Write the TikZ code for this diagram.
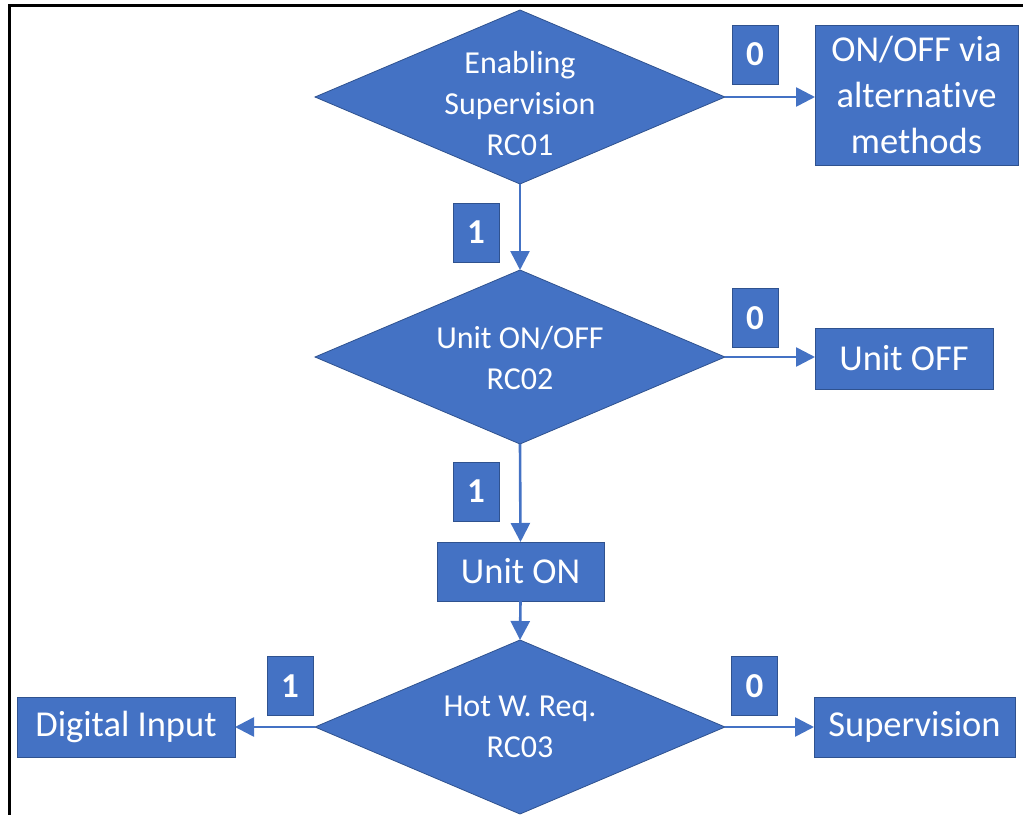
\documentclass[tikz,border=0pt]{standalone}
\usepackage{fontspec}
\setmainfont[Ligatures={NoCommon}]{Carlito}
\usetikzlibrary{shapes.geometric,arrows.meta}
\definecolor{flowblue}{HTML}{4472C4}
\definecolor{flowedge}{HTML}{2F528F}
\begin{document}
\begin{tikzpicture}[x=1bp,y=-1bp,
  decision/.style={diamond, fill=flowblue, draw=flowedge, line width=0.8bp,
    inner sep=0pt, outer sep=0pt, minimum width=410bp, minimum height=174bp},
  dtext/.style={text=white, align=center, inner sep=0pt,
    font=\fontsize{32bp}{41bp}\selectfont},
  outcome/.style={rectangle, fill=flowblue, draw=flowedge, line width=0.8bp,
    inner sep=0pt, outer sep=0pt, text=white, align=center,
    font=\fontsize{36.5bp}{46bp}\selectfont},
  branch/.style={rectangle, fill=flowblue, draw=flowedge, line width=0.6bp,
    inner sep=0pt, minimum width=46bp, minimum height=59bp, text=white,
    font=\fontsize{35bp}{40bp}\selectfont\bfseries},
  flow/.style={draw=flowblue, line width=2.6bp,
    -{Triangle[length=19bp,width=19bp]}}]

\useasboundingbox (0,0) rectangle (1023,815);

% frame lines along the top and left edges
\draw[line width=2.6bp] (9.5,815) -- (9.5,5.3) -- (1023,5.3);

% decisions
\node[decision] (d1) at (520,97) {};
\node[dtext] (d1t) at (520,103) {Enabling\\Supervision\\RC01};
\node[decision] (d2) at (520,357) {};
\node[dtext] (d2t) at (520,358) {Unit ON/OFF\\RC02};
\node[decision] (d3) at (520,727) {};
\node[dtext] (d3t) at (520,727) {Hot W. Req.\\RC03};

% outcomes
\node[outcome, minimum width=203bp, minimum height=140bp] (alt) at (916.5,95)
  {ON/OFF via\\alternative\\methods};
\node[outcome, minimum width=178bp, minimum height=61bp] (off) at (904,358.5) {Unit OFF};
\node[outcome, minimum width=167bp, minimum height=59bp] (on) at (520.5,571.5) {Unit ON};
\node[outcome, minimum width=218bp, minimum height=60bp] (din) at (126,727) {Digital Input};
\node[outcome, minimum width=201bp, minimum height=60bp] (sup) at (914.5,727) {Supervision};

% branch values
\node[branch] (b1) at (755,54.5) {0};
\node[branch] (b2) at (476,232.5) {1};
\node[branch] (b3) at (755,318) {0};
\node[branch] (b4) at (476,491.5) {1};
\node[branch] (b5) at (290,686) {1};
\node[branch] (b6) at (754.5,686) {0};

% connectors
\draw[flow] (d1.east) -- (d1.east -| alt.west);
\draw[flow] (d1.south) -- (d2.north);
\draw[flow] (d2.east) -- (d2.east -| off.west);
\draw[flow] (d2.south) -- (on.north);
\draw[flow] (on.south) -- (d3.north);
\draw[flow] (d3.west) -- (din.east);
\draw[flow] (d3.east) -- (sup.west);
\end{tikzpicture}
\end{document}
